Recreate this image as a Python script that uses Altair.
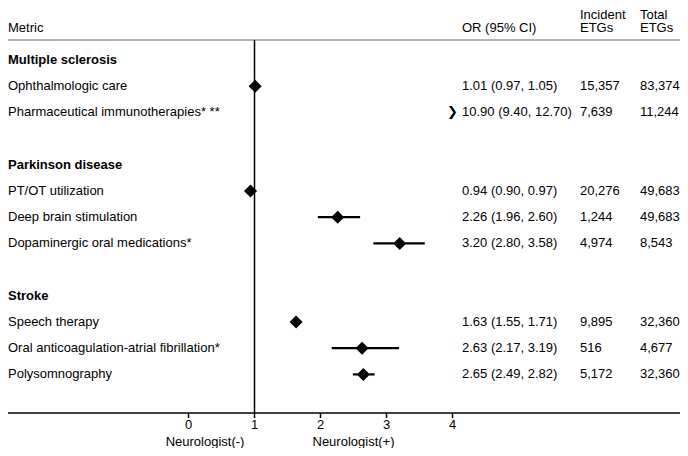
import altair as alt
import pandas as pd

# ---------------- data ----------------
groups = ["Multiple sclerosis", "Parkinson disease", "Stroke"]
metrics = [
    "Ophthalmologic care",
    "Pharmaceutical immunotherapies* **",
    "PT/OT utilization",
    "Deep brain stimulation",
    "Dopaminergic oral medications*",
    "Speech therapy",
    "Oral anticoagulation-atrial fibrillation*",
    "Polysomnography",
]
metric_group = [0, 0, 1, 1, 1, 2, 2, 2]
or_est = [1.01, 10.90, 0.94, 2.26, 3.20, 1.63, 2.63, 2.65]
ci_low = [0.97, 9.40, 0.90, 1.96, 2.80, 1.55, 2.17, 2.49]
ci_high = [1.05, 12.70, 0.97, 2.60, 3.58, 1.71, 3.19, 2.82]
incident_etgs = [15357, 7639, 20276, 1244, 4974, 9895, 516, 5172]
total_etgs = [83374, 11244, 49683, 49683, 8543, 32360, 4677, 32360]
axis_ticks = [0, 1, 2, 3, 4]
null_value = [1]
side_labels = ["Neurologist(-)", "Neurologist(+)"]
side_label_at = [0.25, 2.5]

# ---------------- tables ----------------
metric_rows = []
group_rows = []
r = 0
for gi, g in enumerate(groups):
    group_rows.append(dict(row=r, label=g))
    r += 1
    for i, m in enumerate(metrics):
        if metric_group[i] == gi:
            metric_rows.append(dict(
                row=r, label=m,
                est=or_est[i], lo=ci_low[i], hi=ci_high[i],
                or_text=f"{or_est[i]:.2f} ({ci_low[i]:.2f}, {ci_high[i]:.2f})",
                inc_text=f"{incident_etgs[i]:,}",
                tot_text=f"{total_etgs[i]:,}",
                offscale=bool(or_est[i] > axis_ticks[-1]),
                arrow_x=axis_ticks[-1],
            ))
            r += 1
    r += 1
metric_df = pd.DataFrame(metric_rows)
group_df = pd.DataFrame(group_rows)
plot_df = metric_df[~metric_df["offscale"].astype(bool)]
arrow_df = metric_df[metric_df["offscale"].astype(bool)]
tick_df = pd.DataFrame({"v": axis_ticks, "lab": [str(t) for t in axis_ticks]})

W, H = 672, 440
AXIS_Y = 405
FONT = "Liberation Sans"
FS = 13
xs = alt.Scale(domain=[-2.735, 7.447], nice=False, zero=False)
ys = alt.Scale(domain=[-1.985, 14.809], reverse=True, nice=False, zero=False)

Y = alt.Y("row:Q", scale=ys, axis=None)


def X(field):
    return alt.X(field, scale=xs, axis=None)


def txt(**kw):
    base = dict(font=FONT, fontSize=FS, color="#000", baseline="middle", align="left")
    base.update(kw)
    return base


labels = alt.Chart(metric_df).mark_text(**txt()).encode(
    x=alt.value(0), y=Y, text="label:N")
glabels = alt.Chart(group_df).mark_text(**txt(fontWeight="bold")).encode(
    x=alt.value(0), y=Y, text="label:N")
ortext = alt.Chart(metric_df).mark_text(**txt()).encode(
    x=alt.value(454), y=Y, text="or_text:N")
inctext = alt.Chart(metric_df).mark_text(**txt()).encode(
    x=alt.value(572), y=Y, text="inc_text:N")
tottext = alt.Chart(metric_df).mark_text(**txt()).encode(
    x=alt.value(632), y=Y, text="tot_text:N")

headers = []
for t, xp, yp in [("Metric", 0, 20), ("OR (95% CI)", 454, 20),
                  ("Incident", 572, 6.5), ("ETGs", 572, 20),
                  ("Total", 632, 6.5), ("ETGs", 632, 20)]:
    headers.append(
        alt.Chart(pd.DataFrame({"t": [t]})).mark_text(**txt()).encode(
            x=alt.value(xp), y=alt.value(yp), text="t:N"))

top_line = alt.Chart(pd.DataFrame({"a": [0]})).mark_rule(
    color="#9a9a9a", strokeWidth=1.5).encode(
    x=alt.value(0), x2=alt.value(W), y=alt.value(32))

axis_line = alt.Chart(pd.DataFrame({"a": [0]})).mark_rule(
    color="#000", strokeWidth=1.5).encode(
    x=alt.value(0), x2=alt.value(W), y=alt.value(AXIS_Y))

ticks = alt.Chart(tick_df).mark_rule(color="#000", strokeWidth=1.5).encode(
    x=X("v:Q"), y=alt.value(AXIS_Y), y2=alt.value(AXIS_Y + 5))

tick_labels = alt.Chart(tick_df).mark_text(**txt(align="center")).encode(
    x=X("v:Q"), y=alt.value(AXIS_Y + 12), text="lab:N")

ref_line = alt.Chart(pd.DataFrame({"v": null_value})).mark_rule(
    color="#000", strokeWidth=1.5).encode(
    x=X("v:Q"), y=alt.value(32), y2=alt.value(AXIS_Y))

bars = alt.Chart(plot_df).mark_rule(color="#000", strokeWidth=2.2).encode(
    x=X("lo:Q"), x2="hi:Q", y=Y)

pts = alt.Chart(plot_df).mark_point(
    shape="diamond", filled=True, size=170, color="#000", opacity=1).encode(
    x=X("est:Q"), y=Y)

arrow = alt.Chart(arrow_df).mark_text(
    text="❯", font="DejaVu Sans", fontSize=13, color="#000",
    baseline="middle", align="center").encode(
    x=X("arrow_x:Q"), y=Y)

side = alt.Chart(pd.DataFrame({"t": side_labels, "x": side_label_at})).mark_text(
    **txt(align="center")).encode(
    x=X("x:Q"), y=alt.value(434), text="t:N")

chart = alt.layer(
    top_line, axis_line, ticks, tick_labels, ref_line, bars, pts, arrow,
    labels, glabels, ortext, inctext, tottext, side, *headers
).properties(
    width=W, height=H, padding=0,
    autosize=alt.AutoSizeParams(type="none"),
).configure_view(stroke=None)

chart.save("out.html", embed_options={"renderer": "svg", "actions": False})
